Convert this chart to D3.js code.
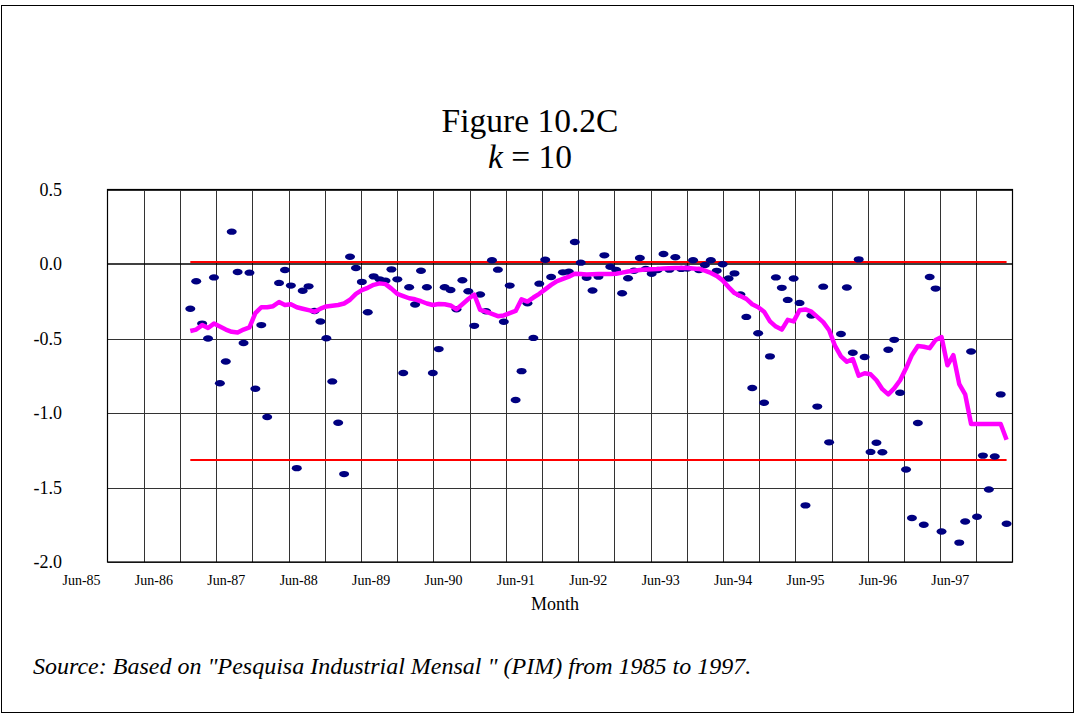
<!DOCTYPE html>
<html><head><meta charset="utf-8">
<script src="https://cdn.jsdelivr.net/npm/d3@7"></script>
<style>body{margin:0;background:#fff}svg{display:block}</style>
</head><body><svg id="c" width="1076" height="715"></svg>
<script>
// Monthly observations, Jun-86 .. Dec-97 (139 months); null = not shown
const firstMonth = "1986-06";
const pointValues = [
 -0.30,-0.116,-0.40,-0.50,-0.09,-0.80,-0.654,0.217,-0.054,-0.53,
 -0.058,-0.837,-0.41,-1.027,null,-0.127,-0.04,-0.145,-1.37,-0.18,
 -0.15,-0.315,-0.386,-0.498,-0.788,-1.065,-1.41,0.049,-0.027,-0.12,
 -0.324,-0.083,-0.103,-0.112,-0.036,-0.103,-0.732,-0.156,-0.272,-0.045,
 -0.156,-0.732,-0.571,-0.156,-0.174,-0.304,-0.109,-0.183,-0.415,-0.205,
 -0.317,0.025,-0.038,-0.388,-0.145,-0.913,-0.719,-0.263,-0.496,-0.132,
 0.029,-0.087,null,-0.056,-0.052,0.148,0.009,-0.092,-0.178,-0.085,
 0.058,-0.018,-0.04,-0.196,-0.096,-0.045,0.04,-0.033,-0.065,-0.04,
 0.067,-0.038,0.045,-0.033,-0.03,0.025,-0.04,-0.007,0.025,-0.046,
 -0.002,-0.097,-0.063,-0.204,-0.355,-0.832,-0.465,-0.931,-0.62,-0.09,
 -0.16,-0.241,-0.097,-0.261,-1.62,-0.346,-0.957,-0.152,-1.197,null,
 -0.47,-0.158,-0.596,0.031,-0.624,-1.261,-1.2,-1.263,-0.576,-0.509,
 -0.864,-1.379,-1.705,-1.067,-1.75,-0.087,-0.165,-1.795,null,null,
 -1.87,-1.728,-0.587,-1.696,-1.286,-1.513,-1.292,-0.875,-1.743
];
// Smoothed series (k = 10)
const trendValues = [
 -0.45,-0.44,-0.41,-0.43,-0.40,-0.42,-0.44,-0.455,-0.46,-0.44,
 -0.425,-0.33,-0.29,-0.29,-0.283,-0.255,-0.275,-0.27,-0.29,-0.30,
 -0.31,-0.32,-0.30,-0.285,-0.28,-0.275,-0.265,-0.24,-0.20,-0.175,
 -0.16,-0.14,-0.13,-0.135,-0.165,-0.20,-0.215,-0.23,-0.237,-0.25,
 -0.265,-0.275,-0.268,-0.27,-0.278,-0.304,-0.27,-0.235,-0.205,-0.308,
 -0.32,-0.335,-0.35,-0.345,-0.33,-0.315,-0.237,-0.252,-0.225,-0.20,
 -0.17,-0.14,-0.115,-0.10,-0.085,-0.065,-0.067,-0.071,-0.069,-0.067,
 -0.067,-0.067,-0.065,-0.058,-0.05,-0.045,-0.04,-0.037,-0.035,-0.033,
 -0.03,-0.028,-0.027,-0.027,-0.027,-0.03,-0.033,-0.045,-0.06,-0.08,
 -0.11,-0.155,-0.195,-0.215,-0.234,-0.27,-0.29,-0.32,-0.385,-0.42,
 -0.44,-0.375,-0.385,-0.31,-0.305,-0.32,-0.355,-0.39,-0.445,-0.55,
 -0.62,-0.656,-0.638,-0.75,-0.733,-0.74,-0.78,-0.84,-0.875,-0.835,
 -0.78,-0.70,-0.61,-0.55,-0.555,-0.565,-0.51,-0.49,-0.68,-0.612,
 -0.806,-0.875,-1.074,-1.074,-1.074,-1.074,-1.074,-1.074,-1.18
];
const upperLimit = 0.013;
const lowerLimit = -1.315;
const yTicks = [0.5, 0.0, -0.5, -1.0, -1.5, -2.0];
const xTickLabels = ["Jun-85","Jun-86","Jun-87","Jun-88","Jun-89","Jun-90","Jun-91",
  "Jun-92","Jun-93","Jun-94","Jun-95","Jun-96","Jun-97"];
const gridCount = 25; // vertical gridlines (half-year)

const svg = d3.select("#c");
const L = 107.5, R = 1012.5, T = 189.5, B = 562;
const serif = "'Liberation Serif','Times New Roman',serif";

svg.append("rect").attr("x",1.5).attr("y",5.5).attr("width",1072).attr("height",707)
  .attr("fill","#fff").attr("stroke","#000").attr("stroke-width",1);

const x = d3.scaleLinear().domain([-14, 139]).range([L, R]);
const y = d3.scaleLinear().domain([-2, 0.5]).range([B, T]);
const g = d3.scaleLinear().domain([0, gridCount]).range([L, R]);

// vertical gridlines
svg.append("g").selectAll("line").data(d3.range(1, gridCount)).join("line")
  .attr("x1", d => Math.round(g(d)) + 0.5).attr("x2", d => Math.round(g(d)) + 0.5)
  .attr("y1", T).attr("y2", B).attr("stroke", "#333").attr("stroke-width", 1);
// horizontal gridlines
svg.append("g").selectAll("line").data(yTicks.filter(v => v !== 0)).join("line")
  .attr("x1", L).attr("x2", R)
  .attr("y1", d => Math.round(y(d)) + 0.5).attr("y2", d => Math.round(y(d)) + 0.5)
  .attr("stroke", "#333").attr("stroke-width", 1);
// zero line
svg.append("line").attr("x1", L).attr("x2", R).attr("y1", y(0)).attr("y2", y(0))
  .attr("stroke", "#000").attr("stroke-width", 1.6);
// frame
svg.append("rect").attr("x", L).attr("y", T).attr("width", R - L).attr("height", B - T)
  .attr("fill", "none").attr("stroke", "#000").attr("stroke-width", 1.2);

// control limits
const n = pointValues.length;
[upperLimit, lowerLimit].forEach(v => {
  svg.append("line").attr("x1", x(0)).attr("x2", x(n - 1))
    .attr("y1", y(v)).attr("y2", y(v)).attr("stroke", "#ff0000").attr("stroke-width", 2);
});

// points
svg.append("g").selectAll("ellipse")
  .data(pointValues.map((v, i) => ({i, v})).filter(d => d.v !== null)).join("ellipse")
  .attr("cx", d => x(d.i)).attr("cy", d => y(d.v)).attr("rx", 5).attr("ry", 3.2)
  .attr("fill", "#000080");

// trend
svg.append("path").datum(trendValues)
  .attr("d", d3.line().x((d, i) => x(i)).y(d => y(d)))
  .attr("fill", "none").attr("stroke", "#ff00ff").attr("stroke-width", 4.5)
  .attr("stroke-linejoin", "round");

// y tick labels
svg.append("g").selectAll("text").data(yTicks).join("text")
  .attr("x", 62).attr("y", d => y(d)).attr("dy", "0.35em").attr("text-anchor", "end")
  .attr("font-family", serif).attr("font-size", 18).text(d => d.toFixed(1));

// x tick labels
svg.append("g").selectAll("text").data(xTickLabels).join("text")
  .attr("x", (d, i) => g(i * 2) - 26).attr("y", 585).attr("text-anchor", "middle")
  .attr("font-family", serif).attr("font-size", 14).text(d => d);

svg.append("text").attr("x", 555).attr("y", 610).attr("text-anchor", "middle")
  .attr("font-family", serif).attr("font-size", 18).text("Month");

// title
svg.append("text").attr("x", 530).attr("y", 132).attr("text-anchor", "middle")
  .attr("font-family", serif).attr("font-size", 33.5).text("Figure 10.2C");
const t2 = svg.append("text").attr("x", 530).attr("y", 168).attr("text-anchor", "middle")
  .attr("font-family", serif).attr("font-size", 33.5);
t2.append("tspan").attr("font-style", "italic").text("k");
t2.append("tspan").text(" = 10");

svg.append("text").attr("x", 33).attr("y", 674)
  .attr("font-family", serif).attr("font-size", 24).attr("font-style", "italic")
  .text('Source: Based on "Pesquisa Industrial Mensal " (PIM) from 1985 to 1997.');
</script></body></html>
